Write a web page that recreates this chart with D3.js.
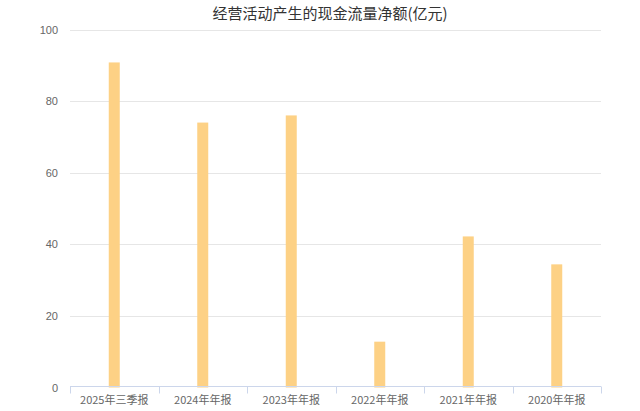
<!DOCTYPE html>
<html><head><meta charset="utf-8">
<script src="https://cdn.jsdelivr.net/npm/d3@7"></script>
<style>
html,body{margin:0;padding:0;background:#fff;}
svg{display:block;font-family:"Noto Sans CJK SC","Noto Sans",sans-serif;}
</style></head>
<body>
<svg id="chart" width="640" height="411"></svg>
<script>
const title = "经营活动产生的现金流量净额(亿元)";
const categories = ["2025年三季报","2024年年报","2023年年报","2022年年报","2021年年报","2020年年报"];
const values = [90.8, 74.0, 76.0, 12.8, 42.2, 34.4];
const yTicks = [0, 20, 40, 60, 80, 100];

const svg = d3.select("#chart");
const W = 640, H = 411;
const m = {left: 70, right: 39, top: 29.5, bottom: 23.5};
const x = d3.scaleBand().domain(categories).range([m.left, W - m.right]).paddingInner(0).paddingOuter(0);
const y = d3.scaleLinear().domain([0, 100]).range([H - m.bottom, m.top]);

// gridlines
svg.append("g").selectAll("line").data(yTicks.filter(d => d > 0)).join("line")
  .attr("x1", m.left).attr("x2", W - m.right)
  .attr("y1", d => Math.round(y(d)) + 0.5).attr("y2", d => Math.round(y(d)) + 0.5)
  .attr("stroke", "#e6e6e6").attr("stroke-width", 1);

// y labels
svg.append("g").selectAll("text").data(yTicks).join("text")
  .attr("x", 58).attr("y", d => y(d) + 4)
  .attr("text-anchor", "end").attr("font-size", 11).attr("fill", "#666")
  .attr("font-family", "'Liberation Sans', sans-serif")
  .text(d => d);

// bars
const bw = 11;
svg.append("g").selectAll("rect").data(values).join("rect")
  .attr("x", (d, i) => x(categories[i]) + x.bandwidth() / 2 - bw / 2)
  .attr("width", bw)
  .attr("y", d => y(d))
  .attr("height", d => y(0) - y(d))
  .attr("fill", "#fdd185");

// x axis
const xAxis = svg.append("g").attr("transform", `translate(0,${Math.round(y(0)) - 1.5})`);
xAxis.append("line").attr("x1", m.left).attr("x2", W - m.right).attr("y1", 0).attr("y2", 0)
  .attr("stroke", "#ccd6eb");
const bounds = categories.map(c => x(c)).concat([x(categories[categories.length - 1]) + x.bandwidth()]);
xAxis.selectAll("line.tick").data(bounds).join("line").attr("class", "tick")
  .attr("x1", d => Math.round(d) + 0.5).attr("x2", d => Math.round(d) + 0.5)
  .attr("y1", 0).attr("y2", 7).attr("stroke", "#ccd6eb");
xAxis.selectAll("text").data(categories).join("text")
  .attr("x", d => x(d) + x.bandwidth() / 2).attr("y", 17)
  .attr("text-anchor", "middle").attr("font-size", 11).attr("fill", "#666")
  .text(d => d);

// title
svg.append("text").attr("x", 330).attr("y", 19).attr("text-anchor", "middle")
  .attr("font-size", 15).attr("fill", "#333").text(title);
</script>
</body></html>
